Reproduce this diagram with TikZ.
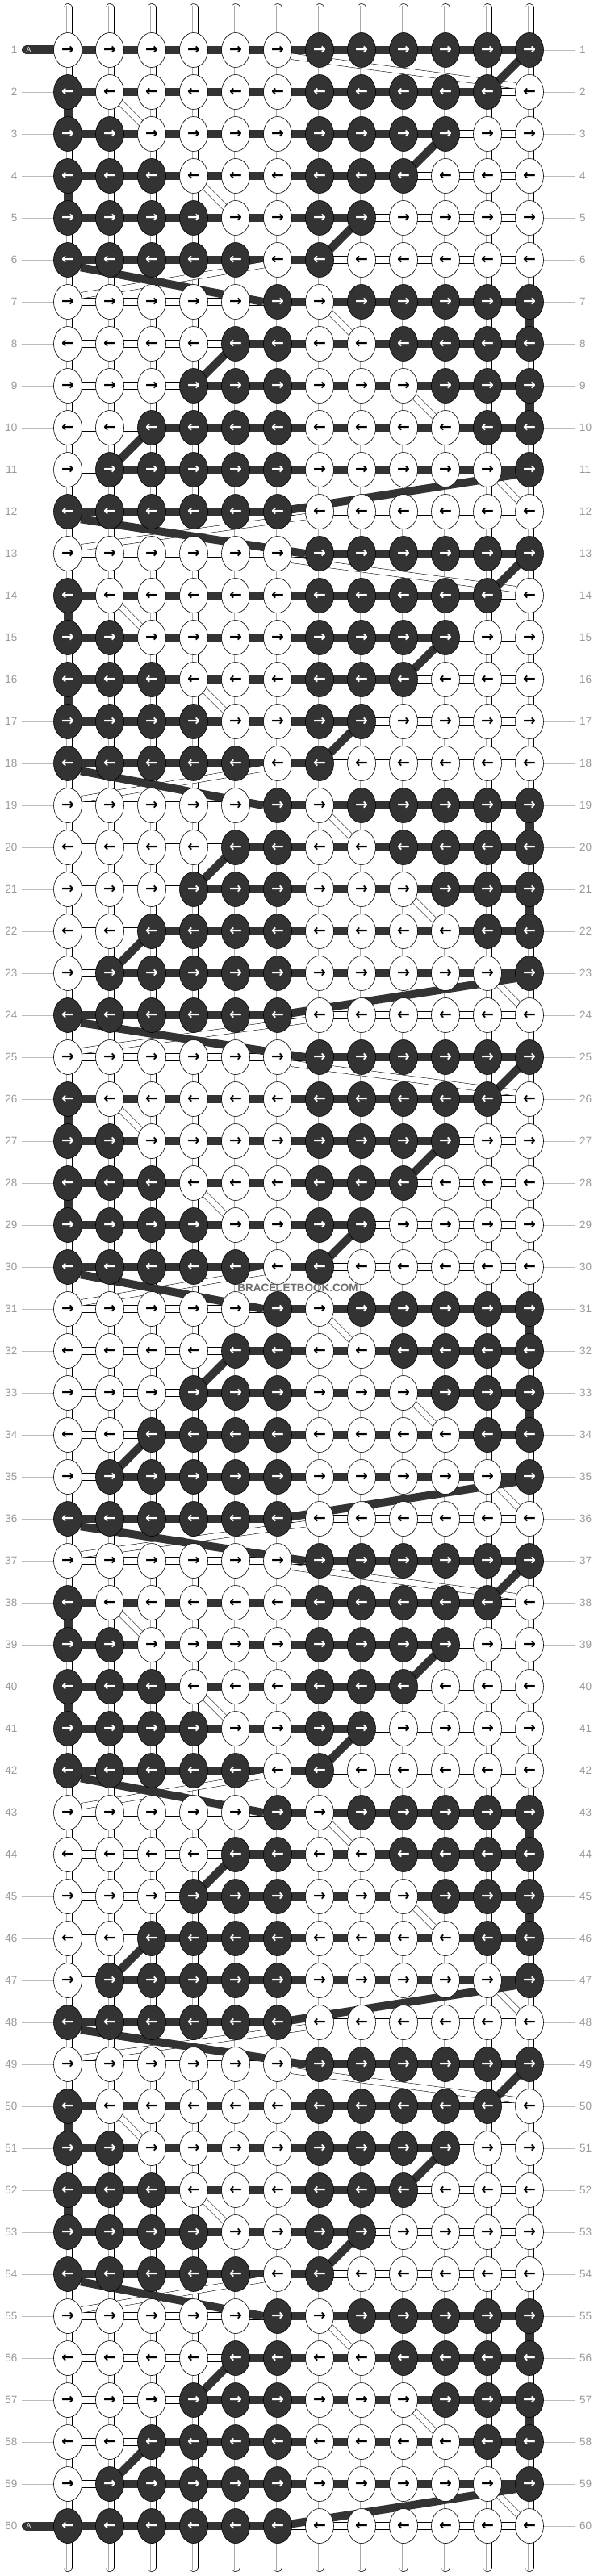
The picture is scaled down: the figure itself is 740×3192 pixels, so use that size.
\documentclass[tikz,border=0pt]{standalone}
\usepackage{fontspec}
\setmainfont{Liberation Sans}
\newfontfamily\arrowfont{DejaVu Sans}
\usetikzlibrary{shapes.geometric}
\definecolor{dk}{HTML}{333333}
\definecolor{lbl}{HTML}{999999}
\definecolor{lblline}{HTML}{BBBBBB}
\definecolor{strline}{HTML}{AAAAAA}
\definecolor{wm}{HTML}{6E6E6E}
\pgfdeclarelayer{bgfill}
\pgfdeclarelayer{vert}
\pgfdeclarelayer{hbar}
\pgfdeclarelayer{diag}
\pgfdeclarelayer{top}
\pgfsetlayers{bgfill,vert,hbar,diag,main,top}
\tikzset{
 knotbase/.style={ellipse, draw=black, line width=0.6pt, minimum width=35pt, minimum height=43pt, inner sep=0pt, font=\arrowfont\bfseries\fontsize{19}{19}\selectfont},
 knotD/.style={knotbase, fill=dk, text=white},
 knotW/.style={knotbase, fill=white, text=black},
 barD/.style={draw=dk, line width=10pt},
 barW/.style={draw=black, line width=0.6pt, double=white, double distance=8.8pt},
 vstrip/.style={draw=black, line width=0.6pt, double=white, double distance=9.8pt},
 vinner/.style={draw=strline, line width=0.5pt, double=white, double distance=3pt},
 vdark/.style={draw=dk, line width=11pt},
 bandD/.style={draw=dk, line width=10pt},
 bandW/.style={draw=black, line width=0.5pt, double=white, double distance=7pt},
 rowlbl/.style={text=lbl, font=\fontsize{13.5}{13.5}\selectfont, inner sep=0pt},
 rowline/.style={draw=lblline, line width=0.8pt},
 tagbar/.style={draw=dk, line width=11pt, line cap=round},
 tagtxt/.style={text=white, font=\fontsize{8.5}{8.5}\selectfont, inner sep=0pt},
 wmtext/.style={text=wm, font=\bfseries\fontsize{13.5}{13.5}\selectfont, inner sep=0pt}
}
\begin{document}
\begin{tikzpicture}[x=1pt,y=-1pt]
\begin{pgfonlayer}{bgfill}
\fill[white] (0,0) rectangle (740,3192);
\end{pgfonlayer}
\useasboundingbox (0,0) rectangle (740,3192);

% knots
\foreach \rr in {1,...,60}{
 \foreach \cc in {1,...,12}{
  \pgfmathtruncatemacro\kk{mod(\rr-1,12)}
  \pgfmathtruncatemacro\isd{ifthenelse(\kk<6, ifthenelse(\cc<7, \cc<=\kk, \cc<=(12-\kk)), ifthenelse(\cc<7, \cc>=(12-\kk), \cc>=(\kk+2)))}
  \pgfmathsetmacro\xx{84+52*(\cc-1)}
  \pgfmathsetmacro\yy{62+52*(\rr-1)}
  \ifodd\rr\relax \def\arr{→}\else \def\arr{←}\fi
  \ifnum\isd=1
   \node[knotD] (k-\rr-\cc) at (\xx,\yy) {\arr};
  \else
   \node[knotW] (k-\rr-\cc) at (\xx,\yy) {\arr};
  \fi
 }
}

% top and bottom strings
\begin{pgfonlayer}{vert}
\foreach \cc in {1,...,12}{
 \pgfmathsetmacro\xx{84+52*(\cc-1)}
 \coordinate (st-\cc) at (\xx,9.6);
 \coordinate (sb-\cc) at (\xx,3181.5);
 \coordinate (sti-\cc) at (\xx,7.5);
 \coordinate (sbi-\cc) at (\xx,3183.5);
 \draw[vstrip, line cap=round] (st-\cc) -- (k-1-\cc.center);
 \draw[vinner] (sti-\cc) -- (k-1-\cc.center);
 \draw[vstrip, line cap=round] (sb-\cc) -- (k-60-\cc.center);
 \draw[vinner] (sbi-\cc) -- (k-60-\cc.center);
}
% vertical connectors
\foreach \rr in {1,...,59}{
 \foreach \cc in {1,...,12}{
  \pgfmathtruncatemacro\nn{\rr+1}
  \pgfmathtruncatemacro\kk{mod(\rr-1,12)}
  \pgfmathtruncatemacro\vd{ifthenelse(\cc==1, or(\kk==1,\kk==3), ifthenelse(\cc==12, or(\kk==6,\kk==8), 0))}
  \ifnum\vd=1
   \draw[vdark] (k-\rr-\cc.center) -- (k-\nn-\cc.center);
  \else
   \draw[vstrip] (k-\rr-\cc.center) -- (k-\nn-\cc.center);
   \draw[vinner] (k-\rr-\cc.center) -- (k-\nn-\cc.center);
  \fi
 }
}
\end{pgfonlayer}

% horizontal bars
\begin{pgfonlayer}{hbar}
\foreach \rr in {1,...,60}{
 \foreach \bb in {1,...,11}{
  \pgfmathtruncatemacro\kk{mod(\rr-1,12)}
  \pgfmathtruncatemacro\nn{\bb+1}
  \pgfmathtruncatemacro\bd{ifthenelse(\rr==1,1,ifthenelse(\kk==0,\bb>=7,ifthenelse(\kk<6,\bb<=(11-\kk),ifthenelse(\kk<11,\bb>=(12-\kk),\bb<=5))))}
  \ifnum\bd=1
   \draw[barD] (k-\rr-\bb.center) -- (k-\rr-\nn.center);
  \else
   \draw[barW] (k-\rr-\bb.center) -- (k-\rr-\nn.center);
  \fi
 }
}
\coordinate (ta-1) at (32.5,62);
\coordinate (ta-60) at (32.5,3130);
\draw[tagbar] (ta-1) -- (k-1-1.center);
\draw[tagbar] (ta-60) -- (k-60-1.center);
\end{pgfonlayer}

% diagonal threads
\begin{pgfonlayer}{diag}
\foreach \pp in {0,...,4}{
 \pgfmathtruncatemacro\rowA{12*\pp+1}
 \pgfmathtruncatemacro\rowB{12*\pp+2}
 \pgfmathtruncatemacro\rowC{12*\pp+3}
 \pgfmathtruncatemacro\rowD{12*\pp+4}
 \pgfmathtruncatemacro\rowE{12*\pp+5}
 \pgfmathtruncatemacro\rowF{12*\pp+6}
 \pgfmathtruncatemacro\rowG{12*\pp+7}
 \pgfmathtruncatemacro\rowH{12*\pp+8}
 \pgfmathtruncatemacro\rowI{12*\pp+9}
 \pgfmathtruncatemacro\rowJ{12*\pp+10}
 \pgfmathtruncatemacro\rowK{12*\pp+11}
 \pgfmathtruncatemacro\rowL{12*\pp+12}
 \pgfmathtruncatemacro\rowM{12*\pp+13}
 \draw[bandW] (k-\rowA-6.335) -- (k-\rowB-12.155);
 \draw[bandW] (k-\rowB-2.center) -- (k-\rowC-3.center);
 \draw[bandW] (k-\rowD-4.center) -- (k-\rowE-5.center);
 \draw[bandW] (k-\rowF-6.200) -- (k-\rowG-1.25);
 \draw[bandW] (k-\rowG-7.center) -- (k-\rowH-8.center);
 \draw[bandW] (k-\rowI-9.center) -- (k-\rowJ-10.center);
 \draw[bandW] (k-\rowK-11.center) -- (k-\rowL-12.center);
 \ifnum\pp<4 \draw[bandW] (k-\rowL-7.200) -- (k-\rowM-1.25); \fi
 \draw[bandD] (k-\rowA-12.center) -- (k-\rowB-11.center);
 \draw[bandD] (k-\rowC-10.center) -- (k-\rowD-9.center);
 \draw[bandD] (k-\rowE-8.center) -- (k-\rowF-7.center);
 \draw[bandD] (k-\rowF-1.330) -- (k-\rowG-6.west);
 \draw[bandD] (k-\rowH-5.center) -- (k-\rowI-4.center);
 \draw[bandD] (k-\rowJ-3.center) -- (k-\rowK-2.center);
 \draw[bandD] (k-\rowK-12.200) -- (k-\rowL-6.center);
 \ifnum\pp<4 \draw[bandD] (k-\rowL-1.330) -- (k-\rowM-7.west); \fi
}
\end{pgfonlayer}

% labels
\begin{pgfonlayer}{top}
\foreach \rr in {1,...,60}{
 \pgfmathsetmacro\yy{62+52*(\rr-1)}
 \node[rowlbl, anchor=east] (ll-\rr) at (21.5,\yy) {\rr};
 \node[rowlbl, anchor=west] (rl-\rr) at (718,\yy) {\rr};
 \draw[rowline] (k-\rr-12.east) -- ([xshift=-5pt]rl-\rr.west);
}
\foreach \rr in {2,...,59}{
 \draw[rowline] ([xshift=5.5pt]ll-\rr.east) -- (k-\rr-1.west);
}
\node[tagtxt] (tag-1) at (35.5,62) {A};
\node[tagtxt] (tag-60) at (35.5,3130) {A};
\node[wmtext] (wmk) at (369,1596) {BRACELETBOOK.COM};
\end{pgfonlayer}
\end{tikzpicture}
\end{document}
